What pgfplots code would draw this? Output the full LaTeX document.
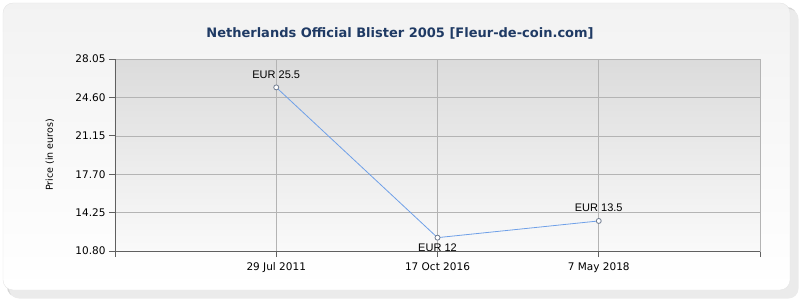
\documentclass[border=0pt]{standalone}
\usepackage{fontspec}
\usepackage{pgfplots}
\pgfplotsset{compat=1.18}
\setmainfont{DejaVu Sans}
\newfontfamily\arialfont{Liberation Sans}
\definecolor{titleblue}{HTML}{1F3A64}
\definecolor{linecol}{HTML}{6FA0E8}
\definecolor{markcol}{HTML}{707C90}
\definecolor{gridcol}{HTML}{B4B4B4}
\definecolor{axcol}{HTML}{606060}
\begin{document}
\begin{tikzpicture}[x=1pt,y=1pt]
\path[use as bounding box] (-115,-49) rectangle (685,251);
\fill[black!16, rounded corners=10pt] (-108,-46) rectangle (682,244);
\fill[black!8, rounded corners=10pt] (-106,-47.5) rectangle (683.5,242);
\shade[top color=black!5, bottom color=white, rounded corners=10pt] (-112,-39) rectangle (675,248);
\draw[black!10, rounded corners=10pt] (-112,-39) rectangle (675,248);
\begin{axis}[at={(0,0)}, anchor=south west, scale only axis,
  width=645pt, height=192pt,
  xmin=0, xmax=4, ymin=10.8, ymax=28.05,
  xtick={0,1,2,3,4}, xticklabels={,29 Jul 2011,17 Oct 2016,7 May 2018,},
  ytick={10.80,14.25,17.70,21.15,24.60,28.05},
  xtick pos=bottom, ytick pos=left, tick align=outside,
  major tick length=6pt,
  tick style={axcol, line width=0.8pt},
  grid=major, major grid style={gridcol, line width=0.6pt},
  axis line style={gridcol, line width=0.6pt},
  axis background/.style={top color=black!14, bottom color=black!2},
  ticklabel style={font=\fontsize{10.5}{13}\selectfont},
  yticklabel style={/pgf/number format/.cd, fixed, fixed zerofill, precision=2, assume math mode=true},
  xticklabel style={yshift=-2pt},
  ylabel={Price (in euros)},
  ylabel style={at={(axis description cs:0,0.5)}, anchor=center, yshift=65pt, font=\fontsize{9.5}{12}\selectfont},
  after end axis/.code={\draw[axcol, line width=0.8pt] (rel axis cs:0,1) -- (rel axis cs:0,0) -- (rel axis cs:1,0);},
  clip=false]
\addplot[linecol, line width=0.8pt, mark=*, mark size=2.5pt, mark options={fill=white, draw=markcol, line width=0.8pt}] coordinates {(1,25.5) (2,12) (3,13.5)};
\addplot[draw=none, mark=none, nodes near coords, point meta=explicit symbolic,
  every node near coord/.style={font=\arialfont\fontsize{11}{13}\selectfont, anchor=center, yshift=13pt, text=black}]
  coordinates {(1,25.5)[EUR 25.5] (3,13.5)[EUR 13.5]};
\addplot[draw=none, mark=none, nodes near coords, point meta=explicit symbolic,
  every node near coord/.style={font=\arialfont\fontsize{11}{13}\selectfont, anchor=center, yshift=-10.5pt, text=black}]
  coordinates {(2,12)[EUR 12]};
\end{axis}
\node[font=\bfseries\fontsize{13}{15}\selectfont, text=titleblue] at (285,218) {Netherlands Official Blister 2005 [Fleur-de-coin.com]};
\end{tikzpicture}
\end{document}
